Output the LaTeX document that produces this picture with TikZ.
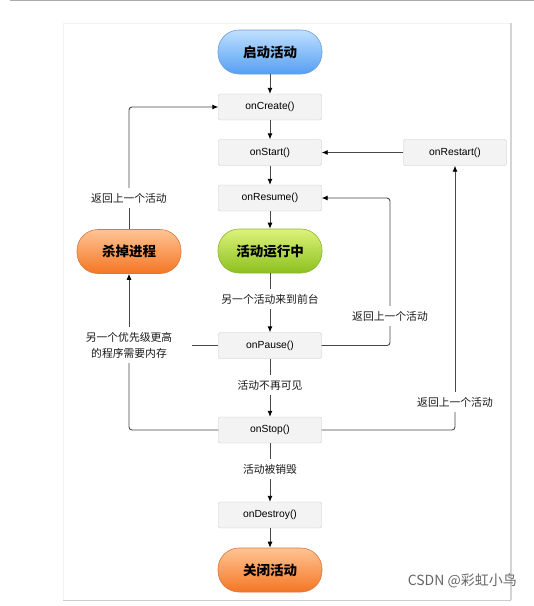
\documentclass[tikz,border=0pt]{standalone}
\usepackage{fontspec}
\setmainfont{Liberation Sans}
\newfontfamily\cjk{Noto Sans CJK SC}
\usetikzlibrary{arrows.meta}
\definecolor{boxfill}{HTML}{F3F3F3}
\definecolor{boxborder}{HTML}{C8C8C8}
\definecolor{linecol}{HTML}{484848}
\definecolor{bluetop}{HTML}{BFE0FF}
\definecolor{bluebot}{HTML}{559FF2}
\definecolor{blueedge}{HTML}{6C9EDC}
\definecolor{greentop}{HTML}{DDF27A}
\definecolor{greenbot}{HTML}{8CC11E}
\definecolor{greenedge}{HTML}{8DB23A}
\definecolor{orangetop}{HTML}{FFC494}
\definecolor{orangebot}{HTML}{F47624}
\definecolor{orangeedge}{HTML}{D9773C}
\tikzset{
  box/.style={draw=boxborder, fill=boxfill, rounded corners=2pt, minimum width=103pt, minimum height=26pt, inner sep=0pt, font=\fontsize{10.3}{12}\selectfont},
  pill/.style={rounded corners=21pt, minimum width=104pt, minimum height=44pt, inner sep=0pt, font=\cjk\bfseries\fontsize{13.5}{15}\selectfont, line width=0.6pt},
  bluepill/.style={pill, draw=blueedge, top color=bluetop, bottom color=bluebot},
  greenpill/.style={pill, draw=greenedge, top color=greentop, bottom color=greenbot},
  orangepill/.style={pill, draw=orangeedge, top color=orangetop, bottom color=orangebot},
  lbl/.style={fill=white, text=black!90, font=\cjk\fontsize{10.8}{16}\selectfont, inner xsep=1pt, inner ysep=5pt, align=center},
  conn/.style={draw=linecol, line width=0.9pt, rounded corners=3pt},
  arr/.style={conn, -{Latex[length=6pt,width=5pt,color=black]}},
}
\begin{document}
\begin{tikzpicture}[x=1pt,y=-1pt]
\path[use as bounding box] (0,0) rectangle (534,606);
% frame
\draw[color=black!33, line width=1.4pt] (10,0.7) -- (534,0.7);
\draw[color=black!5, line width=0.6pt] (63,600) -- (63,23) -- (511,23);
\draw[color=black!17, line width=1.3pt] (511,23) -- (511,600);
\draw[color=black!20, line width=1pt] (63,600.5) -- (511,600.5);
% nodes
\node[bluepill] (start) at (270,52) {启动活动};
\node[box] (create) at (270,107) {onCreate()};
\node[box] (onstart) at (270,152.5) {onStart()};
\node[box] (resume) at (270,198) {onResume()};
\node[greenpill] (running) at (270,251) {活动运行中};
\node[lbl] (l1) at (270,299) {另一个活动来到前台};
\node[box] (pause) at (270,345.5) {onPause()};
\node[lbl] (l2) at (270,385) {活动不再可见};
\node[box] (stop) at (270,430) {onStop()};
\node[lbl] (l3) at (270,469) {活动被销毁};
\node[box] (destroy) at (270,515) {onDestroy()};
\node[orangepill] (finish) at (270,570) {关闭活动};
\node[box] (restart) at (455,152.5) {onRestart()};
\node[orangepill] (kill) at (129,251.5) {杀掉进程};
\node[lbl] (lback) at (129,198) {返回上一个活动};
\node[lbl] (lmem) at (129,345) {另一个优先级更高\\的程序需要内存};
\node[lbl] (lmid) at (390,316) {返回上一个活动};
\node[lbl] (lright) at (455,402) {返回上一个活动};
\coordinate (pstub) at (192,345.5);
% main column
\draw[arr] (start) -- (create);
\draw[arr] (create) -- (onstart);
\draw[arr] (onstart) -- (resume);
\draw[arr] (resume) -- (running);
\draw[conn] (running) -- (l1);
\draw[arr] (l1) -- (pause);
\draw[conn] (pause) -- (l2);
\draw[arr] (l2) -- (stop);
\draw[conn] (stop) -- (l3);
\draw[arr] (l3) -- (destroy);
\draw[arr] (destroy) -- (finish);
% restart loop
\draw[arr] (restart) -- (onstart);
\draw[conn] (stop.east) -| (lright.south);
\draw[arr] (lright.north) -- (restart.south);
% resume loop
\draw[conn] (pause.east) -| (lmid.south);
\draw[arr] (lmid.north) |- (resume.east);
% kill loop
\draw[conn] (pause.west) -- (pstub);
\draw[conn] (stop.west) -| (lmem.south);
\draw[arr] (lmem.north) -- (kill.south);
\draw[conn] (kill.north) -- (lback.south);
\draw[arr] (lback.north) |- (create.west);
% watermark
\node[font=\cjk\fontsize{14}{16}\selectfont, text=black!60, anchor=east, inner sep=0pt] (wm) at (517,581) {CSDN @彩虹小鸟};
\end{tikzpicture}
\end{document}
